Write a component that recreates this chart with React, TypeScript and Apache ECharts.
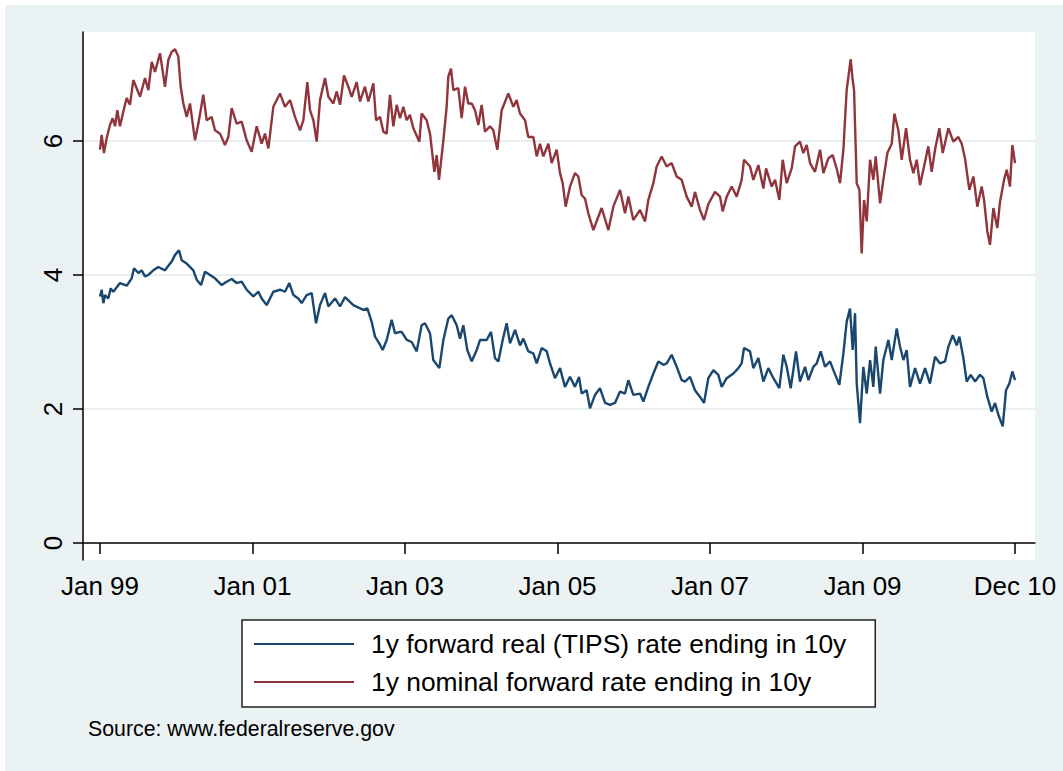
import React, { useEffect, useRef } from 'react';
import * as echarts from 'echarts';

// [decimal year, percent]
const realRate: [number, number][] = [
  [1999.000, 3.68], [1999.022, 3.78], [1999.044, 3.58], [1999.066, 3.70], [1999.109, 3.65], [1999.140, 3.80], [1999.175, 3.75], [1999.262, 3.88], [1999.350, 3.84], [1999.415, 3.95], [1999.446, 4.10], [1999.503, 4.03], [1999.546, 4.07], [1999.590, 3.98], [1999.634, 4.00], [1999.699, 4.07], [1999.765, 4.12], [1999.852, 4.07], [1999.940, 4.20], [1999.984, 4.30],
  [2000.036, 4.37], [2000.071, 4.22], [2000.137, 4.17], [2000.224, 4.07], [2000.268, 3.93], [2000.325, 3.85], [2000.377, 4.05], [2000.443, 4.00], [2000.508, 3.95], [2000.596, 3.85], [2000.661, 3.90], [2000.727, 3.94], [2000.792, 3.88], [2000.858, 3.90], [2000.923, 3.78],
  [2001.011, 3.68], [2001.077, 3.75], [2001.120, 3.65], [2001.186, 3.55], [2001.273, 3.75], [2001.361, 3.78], [2001.426, 3.75], [2001.483, 3.88], [2001.536, 3.70], [2001.601, 3.65], [2001.645, 3.58], [2001.710, 3.70], [2001.776, 3.73], [2001.833, 3.28], [2001.885, 3.55], [2001.951, 3.73], [2001.995, 3.53],
  [2002.082, 3.65], [2002.148, 3.53], [2002.213, 3.67], [2002.322, 3.55], [2002.454, 3.48], [2002.506, 3.50], [2002.563, 3.30], [2002.607, 3.08], [2002.672, 2.96], [2002.707, 2.88], [2002.760, 3.03], [2002.825, 3.33], [2002.869, 3.13], [2002.935, 3.15], [2002.956, 3.15],
  [2003.022, 3.03], [2003.087, 3.00], [2003.153, 2.86], [2003.218, 3.25], [2003.262, 3.28], [2003.328, 3.13], [2003.371, 2.73], [2003.450, 2.61], [2003.503, 3.03], [2003.568, 3.35], [2003.612, 3.40], [2003.678, 3.25], [2003.721, 3.05], [2003.765, 3.25], [2003.817, 2.88], [2003.874, 2.71], [2003.940, 2.88], [2003.984, 3.03],
  [2004.071, 3.03], [2004.128, 3.15], [2004.180, 2.76], [2004.224, 2.71], [2004.281, 3.03], [2004.333, 3.28], [2004.377, 2.98], [2004.443, 3.18], [2004.508, 2.95], [2004.552, 3.05], [2004.617, 2.86], [2004.683, 2.83], [2004.727, 2.68], [2004.792, 2.91], [2004.858, 2.86], [2004.902, 2.68], [2004.967, 2.46],
  [2005.033, 2.61], [2005.098, 2.33], [2005.164, 2.48], [2005.229, 2.33], [2005.282, 2.48], [2005.317, 2.23], [2005.382, 2.28], [2005.426, 2.01], [2005.492, 2.21], [2005.557, 2.31], [2005.623, 2.09], [2005.688, 2.06], [2005.754, 2.09], [2005.820, 2.26], [2005.885, 2.23], [2005.929, 2.43], [2005.994, 2.21],
  [2006.082, 2.23], [2006.126, 2.11], [2006.191, 2.33], [2006.257, 2.53], [2006.322, 2.71], [2006.388, 2.66], [2006.432, 2.68], [2006.497, 2.81], [2006.563, 2.63], [2006.628, 2.43], [2006.672, 2.41], [2006.738, 2.48], [2006.803, 2.28], [2006.869, 2.18], [2006.921, 2.09], [2006.978, 2.46],
  [2007.044, 2.58], [2007.109, 2.51], [2007.153, 2.33], [2007.219, 2.46], [2007.306, 2.53], [2007.372, 2.61], [2007.415, 2.68], [2007.446, 2.91], [2007.525, 2.86], [2007.568, 2.61], [2007.634, 2.76], [2007.700, 2.41], [2007.765, 2.61], [2007.831, 2.46], [2007.909, 2.31], [2007.962, 2.81],
  [2008.006, 2.63], [2008.058, 2.31], [2008.128, 2.86], [2008.180, 2.41], [2008.246, 2.63], [2008.290, 2.43], [2008.355, 2.63], [2008.399, 2.68], [2008.452, 2.86], [2008.508, 2.63], [2008.574, 2.71], [2008.618, 2.58], [2008.696, 2.36], [2008.749, 2.83], [2008.792, 3.30], [2008.836, 3.50], [2008.871, 2.88], [2008.902, 3.43], [2008.924, 2.38], [2008.967, 1.79],
  [2009.011, 2.63], [2009.055, 2.23], [2009.099, 2.73], [2009.142, 2.33], [2009.173, 2.93], [2009.230, 2.23], [2009.273, 2.73], [2009.339, 3.03], [2009.383, 2.73], [2009.448, 3.20], [2009.492, 2.93], [2009.536, 2.73], [2009.579, 2.88], [2009.623, 2.33], [2009.689, 2.61], [2009.754, 2.38], [2009.820, 2.61], [2009.885, 2.38], [2009.951, 2.78],
  [2010.017, 2.68], [2010.082, 2.71], [2010.126, 2.93], [2010.183, 3.10], [2010.235, 2.95], [2010.270, 3.08], [2010.323, 2.76], [2010.366, 2.41], [2010.419, 2.51], [2010.476, 2.41], [2010.541, 2.51], [2010.585, 2.46], [2010.637, 2.18], [2010.694, 1.96], [2010.738, 2.09], [2010.782, 1.91], [2010.839, 1.74], [2010.882, 2.28], [2010.926, 2.38], [2010.965, 2.56], [2011.000, 2.43],
];

const nominalRate: [number, number][] = [
  [1999.000, 5.87], [1999.022, 6.09], [1999.052, 5.82], [1999.087, 6.04], [1999.131, 6.24], [1999.166, 6.34], [1999.197, 6.22], [1999.227, 6.46], [1999.262, 6.22], [1999.306, 6.44], [1999.350, 6.64], [1999.393, 6.54], [1999.437, 6.91], [1999.525, 6.66], [1999.590, 6.94], [1999.634, 6.76], [1999.678, 7.18], [1999.721, 7.03], [1999.787, 7.31], [1999.852, 6.81], [1999.896, 7.21], [1999.940, 7.33], [1999.984, 7.37],
  [2000.027, 7.26], [2000.058, 6.81], [2000.093, 6.56], [2000.137, 6.36], [2000.180, 6.56], [2000.246, 6.01], [2000.290, 6.26], [2000.355, 6.69], [2000.399, 6.31], [2000.464, 6.36], [2000.508, 6.16], [2000.574, 6.11], [2000.639, 5.94], [2000.683, 6.06], [2000.727, 6.49], [2000.792, 6.26], [2000.858, 6.29], [2000.923, 6.01], [2000.989, 5.84],
  [2001.055, 6.22], [2001.120, 5.96], [2001.164, 6.11], [2001.208, 5.89], [2001.273, 6.51], [2001.361, 6.71], [2001.426, 6.51], [2001.492, 6.61], [2001.557, 6.36], [2001.623, 6.16], [2001.667, 6.31], [2001.719, 6.88], [2001.754, 6.46], [2001.798, 6.31], [2001.842, 5.99], [2001.885, 6.61], [2001.951, 6.94], [2001.995, 6.66],
  [2002.060, 6.56], [2002.104, 6.74], [2002.148, 6.54], [2002.200, 6.98], [2002.257, 6.81], [2002.301, 6.66], [2002.366, 6.88], [2002.410, 6.59], [2002.475, 6.81], [2002.519, 6.59], [2002.585, 6.86], [2002.620, 6.31], [2002.672, 6.36], [2002.716, 6.14], [2002.759, 6.11], [2002.803, 6.69], [2002.847, 6.22], [2002.891, 6.54], [2002.934, 6.34], [2002.978, 6.51],
  [2003.022, 6.31], [2003.065, 6.39], [2003.109, 6.19], [2003.188, 5.99], [2003.218, 6.41], [2003.284, 6.31], [2003.328, 6.11], [2003.385, 5.54], [2003.415, 5.79], [2003.446, 5.42], [2003.503, 6.01], [2003.546, 6.51], [2003.568, 6.96], [2003.603, 7.08], [2003.634, 6.76], [2003.699, 6.79], [2003.743, 6.34], [2003.787, 6.81], [2003.830, 6.56], [2003.874, 6.56], [2003.918, 6.46], [2003.962, 6.24],
  [2004.005, 6.54], [2004.049, 6.14], [2004.115, 6.22], [2004.158, 6.16], [2004.211, 5.87], [2004.268, 6.46], [2004.355, 6.71], [2004.421, 6.51], [2004.464, 6.61], [2004.508, 6.41], [2004.574, 6.31], [2004.617, 6.06], [2004.683, 6.06], [2004.727, 5.77], [2004.770, 5.96], [2004.814, 5.77], [2004.880, 5.96], [2004.923, 5.67], [2004.989, 5.87],
  [2005.033, 5.52], [2005.068, 5.37], [2005.107, 5.02], [2005.164, 5.32], [2005.229, 5.52], [2005.273, 5.47], [2005.317, 5.19], [2005.361, 5.14], [2005.404, 4.92], [2005.470, 4.67], [2005.535, 4.87], [2005.579, 5.00], [2005.667, 4.67], [2005.732, 5.02], [2005.820, 5.27], [2005.885, 4.92], [2005.929, 5.17], [2005.994, 4.82],
  [2006.082, 4.97], [2006.148, 4.80], [2006.191, 5.12], [2006.257, 5.37], [2006.300, 5.62], [2006.366, 5.77], [2006.432, 5.62], [2006.497, 5.67], [2006.563, 5.47], [2006.628, 5.42], [2006.694, 5.17], [2006.760, 5.02], [2006.803, 5.24], [2006.869, 4.97], [2006.921, 4.82], [2006.978, 5.06],
  [2007.066, 5.24], [2007.131, 5.17], [2007.166, 4.95], [2007.219, 5.17], [2007.284, 5.32], [2007.350, 5.17], [2007.415, 5.42], [2007.446, 5.72], [2007.525, 5.62], [2007.568, 5.42], [2007.634, 5.64], [2007.700, 5.29], [2007.735, 5.59], [2007.809, 5.32], [2007.853, 5.42], [2007.909, 5.12], [2007.953, 5.72],
  [2008.006, 5.37], [2008.071, 5.59], [2008.115, 5.92], [2008.180, 5.99], [2008.224, 5.82], [2008.268, 5.94], [2008.312, 5.67], [2008.377, 5.54], [2008.443, 5.87], [2008.487, 5.52], [2008.552, 5.74], [2008.609, 5.79], [2008.661, 5.59], [2008.705, 5.37], [2008.749, 5.87], [2008.792, 6.76], [2008.845, 7.22], [2008.871, 6.91], [2008.889, 6.76], [2008.924, 5.37], [2008.959, 5.27], [2008.989, 4.32],
  [2009.020, 5.12], [2009.055, 4.80], [2009.099, 5.72], [2009.142, 5.42], [2009.173, 5.77], [2009.230, 5.07], [2009.273, 5.42], [2009.326, 5.82], [2009.383, 5.96], [2009.418, 6.41], [2009.470, 6.16], [2009.514, 5.72], [2009.571, 6.19], [2009.623, 5.72], [2009.667, 5.52], [2009.711, 5.72], [2009.754, 5.34], [2009.807, 5.62], [2009.863, 5.92], [2009.907, 5.54], [2009.951, 5.87],
  [2010.008, 6.19], [2010.052, 5.82], [2010.126, 6.19], [2010.191, 5.99], [2010.257, 6.06], [2010.301, 5.96], [2010.344, 5.74], [2010.401, 5.27], [2010.454, 5.47], [2010.506, 5.02], [2010.563, 5.32], [2010.594, 5.12], [2010.637, 4.65], [2010.672, 4.45], [2010.716, 5.00], [2010.768, 4.70], [2010.803, 5.09], [2010.856, 5.42], [2010.891, 5.57], [2010.934, 5.32], [2010.965, 5.94], [2011.000, 5.67],
];

const seriesNames = [
  '1y forward real (TIPS) rate ending in 10y',
  '1y nominal forward rate ending in 10y',
];
const seriesColors = ['#1a476f', '#90353b'];
const xTickValues = [1999, 2001, 2003, 2005, 2007, 2009, 2010.999];
const xTickLabels = ['Jan 99', 'Jan 01', 'Jan 03', 'Jan 05', 'Jan 07', 'Jan 09', 'Dec 10'];
const yTickValues = [0, 2, 4, 6];
const sourceNote = 'Source: www.federalreserve.gov';

const FONT = '"Liberation Sans", Arial, Helvetica, sans-serif';

export default function App() {
  const ref = useRef<HTMLDivElement>(null);

  useEffect(() => {
    if (!ref.current) return;
    const chart = echarts.init(ref.current, undefined, { renderer: 'svg' });
    chart.setOption({
      animation: false,
      backgroundColor: '#eaf2f3',
      textStyle: { fontFamily: FONT },
      grid: {
        left: 83,
        top: 32,
        right: 28,
        bottom: 211,
        show: true,
        backgroundColor: '#ffffff',
        borderWidth: 0,
        containLabel: false,
      },
      xAxis: {
        type: 'value',
        min: 1998.777,
        max: 2011.262,
        axisLine: { show: true, lineStyle: { color: '#000', width: 1.5 } },
        axisTick: {
          show: true,
          length: 11,
          customValues: xTickValues,
          lineStyle: { color: '#000', width: 1.5 },
        },
        axisLabel: {
          customValues: xTickValues,
          fontSize: 26,
          color: '#000',
          fontFamily: FONT,
          margin: 13,
          formatter: (v: number) => {
            const i = xTickValues.findIndex((t) => Math.abs(t - v) < 1e-6);
            return i >= 0 ? xTickLabels[i] : '';
          },
        },
        splitLine: { show: false },
      },
      yAxis: {
        type: 'value',
        min: -0.254,
        max: 7.627,
        axisLine: { show: true, lineStyle: { color: '#000', width: 1.5 } },
        axisTick: {
          show: true,
          length: 10,
          customValues: yTickValues,
          lineStyle: { color: '#000', width: 1.5 },
        },
        axisLabel: {
          customValues: yTickValues,
          rotate: 90,
          fontSize: 26,
          color: '#000',
          fontFamily: FONT,
          margin: 17,
        },
        splitLine: {
          show: true,
          lineStyle: { color: ['rgba(0,0,0,0)', '#e6eef0', '#e6eef0', '#e6eef0'], width: 2 },
        },
      },
      legend: {
        show: true,
        orient: 'vertical',
        left: 242,
        top: 620,
        data: seriesNames,
        icon: 'rect',
        itemWidth: 100,
        itemHeight: 2,
        itemGap: 8,
        padding: [9, 29, 10, 12],
        borderColor: '#222',
        borderWidth: 1.5,
        backgroundColor: '#ffffff',
        selectedMode: false,
        textStyle: {
          fontSize: 26.4,
          color: '#000',
          fontFamily: FONT,
          lineHeight: 30,
          padding: [0, 0, 0, 12],
        },
      },
      graphic: [
        {
          type: 'rect',
          shape: { x: 0, y: 0, width: 1063, height: 5 },
          style: { fill: '#ffffff' },
          silent: true,
        },
        {
          type: 'rect',
          shape: { x: 0, y: 0, width: 5, height: 771 },
          style: { fill: '#ffffff' },
          silent: true,
        },
        {
          type: 'text',
          x: 88,
          y: 729,
          style: {
            text: sourceNote,
            fontSize: 21.3,
            fontFamily: FONT,
            fill: '#000',
            verticalAlign: 'middle',
            align: 'left',
          },
          silent: true,
        },
      ],
      series: [
        {
          name: seriesNames[0],
          type: 'line',
          data: realRate,
          showSymbol: false,
          symbol: 'none',
          lineStyle: { color: seriesColors[0], width: 2.4 },
          itemStyle: { color: seriesColors[0] },
          z: 3,
        },
        {
          name: seriesNames[1],
          type: 'line',
          data: nominalRate,
          showSymbol: false,
          symbol: 'none',
          lineStyle: { color: seriesColors[1], width: 2.4 },
          itemStyle: { color: seriesColors[1] },
          z: 3,
        },
      ],
    });
    return () => chart.dispose();
  }, []);

  return (
    <div
      ref={ref}
      style={{ position: 'fixed', left: 0, top: 0, width: 1063, height: 771 }}
    />
  );
}
